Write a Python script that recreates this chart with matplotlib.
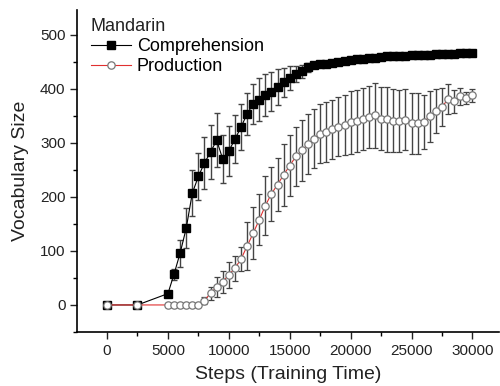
import numpy as np
import matplotlib
matplotlib.use("Agg")
import matplotlib.pyplot as plt
from matplotlib.ticker import MultipleLocator

plt.rcParams['font.family'] = ['Liberation Sans', 'DejaVu Sans']

# --- dane ---
steps = [0, 2500] + list(range(5000, 30001, 500))

comp_mean = [0, 0, 21, 57, 96, 142, 207, 238, 263, 283, 305, 270, 285, 307, 329,
             354, 372, 380, 389, 395, 403, 412, 420, 427, 433, 440, 444, 446,
             446, 448, 450, 452, 454, 455, 456, 457, 458, 459, 460, 460, 461,
             461, 462, 462, 463, 463, 464, 464, 465, 465, 466, 466, 467]
comp_err = [0, 0, 2, 10, 25, 37, 43, 43, 48, 50, 50, 45, 47, 45, 43,
            39, 37, 40, 39, 36, 33, 27, 22, 15, 12, 8, 6, 5,
            5, 4, 4, 4, 4, 3, 3, 3, 3, 3, 3, 3, 3,
            3, 3, 3, 3, 3, 3, 3, 3, 3, 3, 3, 3]

prod_mean = [0, 0, 0, 0, 0, 0, 0, 0, 8, 22, 33, 43, 56, 68, 85,
             109, 133, 158, 184, 206, 223, 241, 258, 275, 286, 298, 308, 317,
             320, 325, 330, 333, 338, 341, 344, 348, 351, 345, 344, 341, 341,
             343, 336, 336, 339, 349, 359, 367, 381, 377, 386, 383, 388]
prod_err = [0, 0, 3, 3, 2, 2, 3, 3, 6, 12, 19, 20, 24, 23, 23,
            45, 48, 47, 54, 50, 49, 57, 57, 55, 56, 55, 55, 55,
            55, 55, 55, 56, 58, 57, 57, 57, 60, 59, 60, 58, 57,
            56, 57, 56, 50, 47, 40, 35, 28, 21, 16, 11, 12]

# --- wykres ---
fig = plt.figure(figsize=(5, 3.86), dpi=100)
ax = fig.add_axes([0.1546, 0.14, 0.844, 0.834])

c1 = ax.errorbar(steps, comp_mean, yerr=comp_err, color="black", lw=0.8,
                 marker="s", ms=5.3, mfc="black", mec="black",
                 ecolor="#444444", elinewidth=1, capsize=2.3, capthick=1,
                 label="Comprehension", zorder=2)
c2 = ax.errorbar(steps, prod_mean, yerr=prod_err, color="#e03030", lw=0.8,
                 marker="o", ms=5.3, mfc="white", mec="#777777", mew=0.9,
                 ecolor="#444444", elinewidth=1, capsize=2.3, capthick=1,
                 label="Production", zorder=3)

ax.set_xlim(-2440, 32200)
ax.set_ylim(-50, 546)
ax.xaxis.set_major_locator(MultipleLocator(5000))
ax.xaxis.set_minor_locator(MultipleLocator(2500))
ax.yaxis.set_major_locator(MultipleLocator(100))
ax.yaxis.set_minor_locator(MultipleLocator(50))
ax.tick_params(which="major", direction="out", length=5, width=1,
               labelsize=11, colors="#222222")
ax.tick_params(which="minor", direction="out", length=3, width=1)

for s in ["top", "right"]:
    ax.spines[s].set_visible(False)
for s in ["left", "bottom"]:
    ax.spines[s].set_linewidth(1.2)

ax.set_xlabel("Steps (Training Time)", fontsize=14, color="#222222", labelpad=6)
ax.set_ylabel("Vocabulary Size", fontsize=14, color="#222222", labelpad=8)

# legenda tylko z linią i znacznikiem (bez słupków błędu)
leg = ax.legend(handles=[c1[0], c2[0]], labels=["Comprehension", "Production"],
                loc="upper left", bbox_to_anchor=(0.032, 0.974), frameon=False,
                title="Mandarin", fontsize=13, title_fontsize=13,
                alignment="left", borderpad=0, borderaxespad=0,
                handlelength=2.2, handletextpad=0.35, labelspacing=0.15)
leg.get_title().set_color("#222222")

fig.savefig("out.png", dpi=100)
